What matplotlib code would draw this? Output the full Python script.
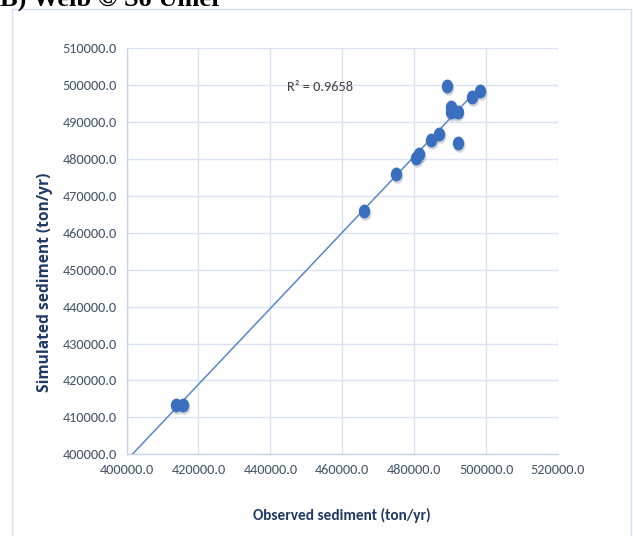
import numpy as np
import matplotlib
matplotlib.use("Agg")
import matplotlib.pyplot as plt
import matplotlib.transforms as mtrans
from matplotlib.patches import Rectangle
from matplotlib.path import Path
from matplotlib.ticker import MultipleLocator, FuncFormatter

# Observed vs simulated annual sediment load (ton/yr)
observed = [413800, 415700, 466000, 475000, 480500, 481300, 484700, 486900,
            489200, 490200, 490300, 492100, 492200, 496200, 498300]
simulated = [413400, 413400, 466000, 475900, 480200, 481400, 485200, 486800,
             499800, 494200, 492800, 492700, 484300, 496900, 498500]
r2_label = "R\u00b2 = 0.9658"
title_text = "B) Weib \u00a9 So Umer"
x_label = "Observed sediment (ton/yr)"
y_label = "Simulated sediment (ton/yr)"

narrow = ["Carlito", "Roboto Condensed", "PT Sans Narrow", "Archivo Narrow",
          "Liberation Sans", "DejaVu Sans"]
tick_color = "#44546A"
label_color = "#1F3864"
grid_color = "#D9E2F3"
point_color = "#3A6FC0"
line_color = "#5A86C8"

fig = plt.figure(figsize=(6.33, 5.36), dpi=100)
W, H = 633, 536

# light chart frame
fig.patches.append(Rectangle((12 / W, -0.05), (631 - 12) / W, 1.05 - 9 / H,
                             transform=fig.transFigure, fill=False,
                             edgecolor="#D6DFEF", linewidth=1.0))

fig.text(0.0, 1 - 6 / H, title_text, family=["Liberation Serif", "DejaVu Serif"],
         fontweight="bold", fontsize=19, va="baseline", ha="left", color="black")

ax = fig.add_axes([126.5 / W, 81.7 / H, 431.5 / W, 406 / H])
ax.set_xlim(400000, 520000)
ax.set_ylim(400000, 510000)
ax.xaxis.set_major_locator(MultipleLocator(20000))
ax.yaxis.set_major_locator(MultipleLocator(10000))
fmt = FuncFormatter(lambda v, p: f"{v:.1f}")
ax.xaxis.set_major_formatter(fmt)
ax.yaxis.set_major_formatter(fmt)
ax.grid(True, color=grid_color, linewidth=1.0)
ax.set_axisbelow(True)
for side in ("top", "right"):
    ax.spines[side].set_visible(False)
for side in ("left", "bottom"):
    ax.spines[side].set_color("#C9D5EC")
    ax.spines[side].set_linewidth(1.0)
ax.tick_params(length=0, pad=7, colors=tick_color)
for lab in ax.get_xticklabels() + ax.get_yticklabels():
    lab.set_family(narrow)
    lab.set_fontsize(10.3)
    lab.set_color(tick_color)

# linear trend line from the axis origin to the largest observation
obs = np.array(observed, dtype=float)
sim = np.array(simulated, dtype=float)
slope, intercept = np.polyfit(obs, sim, 1)
xl = np.array([400000.0, obs.max()])
ax.plot(xl, slope * xl + intercept, color=line_color, linewidth=1.1, zorder=2)

# slightly tall oval marker
circle = Path.unit_circle()
oval = Path(circle.vertices * np.array([0.82, 1.0]), circle.codes)

# soft drop shadow under each marker
shadow = mtrans.offset_copy(ax.transData, fig=fig, x=0.8, y=-2.0, units="dots")
ax.plot(obs, sim, linestyle="none", marker=oval, markersize=10.5,
        color="#7F8A99", alpha=0.35, markeredgewidth=0, transform=shadow,
        zorder=3)
ax.plot(obs, sim, linestyle="none", marker=oval, markersize=10,
        color=point_color, markeredgewidth=0, zorder=4)

ax.text(453800, 499500, r2_label, family=narrow, fontsize=10.3,
        color="#404040", ha="center", va="center")

fig.text(342 / W, 1 - 515 / H, x_label, family=narrow, fontweight="bold",
         fontsize=11, color=label_color, ha="center", va="center")
fig.text(45 / W, 1 - 282 / H, y_label, family=["Open Sans", "DejaVu Sans"],
         fontweight="bold", fontsize=11.2, color=label_color, rotation=90,
         ha="center", va="center")

fig.savefig("out.png", dpi=100)
